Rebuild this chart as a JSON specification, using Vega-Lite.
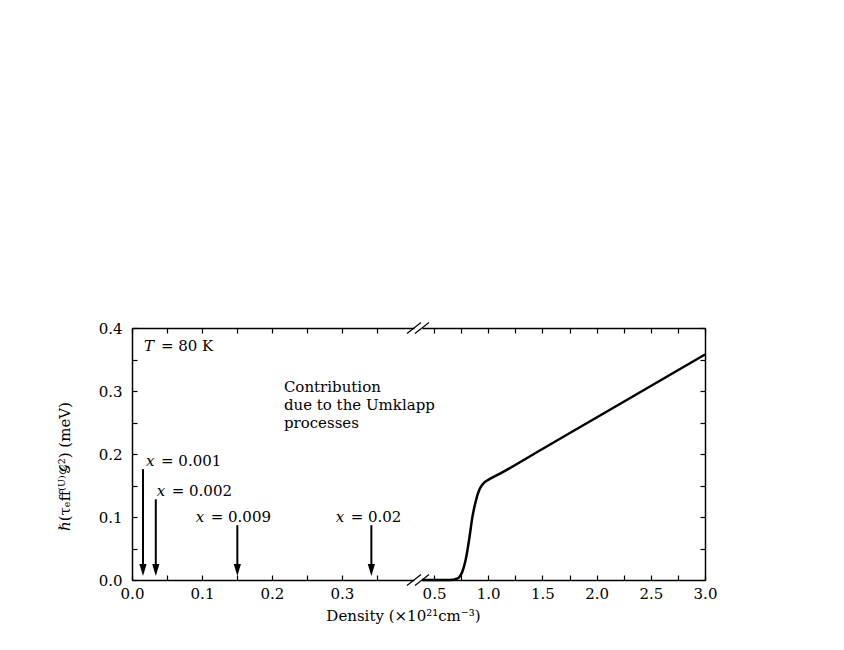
{
  "$schema": "https://vega.github.io/schema/vega-lite/v6.json",
  "background": "white",
  "padding": {"left": 57, "top": 321, "right": 5, "bottom": 5},
  "spacing": 8,
  "bounds": "flush",
  "config": {
    "view": {"stroke": null},
    "axis": {
      "domainColor": "black", "domainWidth": 1.5, "tickColor": "black", "tickWidth": 1.2, "tickSize": -5,
      "labelFont": "DejaVu Serif", "labelFontSize": 15, "labelColor": "black", "labelPadding": 11, "labelFlush": false,
      "titleFont": "DejaVu Serif", "titleFontSize": 15, "titleFontWeight": "normal", "titleColor": "black",
      "grid": false
    },
    "text": {"font": "DejaVu Serif", "fontSize": 15, "color": "black"}
  },
  "datasets": {
    "arrows": [
      {"density": 0.0157, "top": 0.176},
      {"density": 0.034, "top": 0.128},
      {"density": 0.1505, "top": 0.087},
      {"density": 0.342, "top": 0.087}
    ],
    "labels": [
      {"lx": 0.020, "ly": 0.181, "text": "= 0.001"},
      {"lx": 0.0353, "ly": 0.133, "text": "= 0.002"},
      {"lx": 0.091, "ly": 0.0925, "text": "= 0.009"},
      {"lx": 0.291, "ly": 0.0925, "text": "= 0.02"}
    ],
    "notes": [
      {"nx": 0.017, "ny": 0.364, "lead": "T", "text": "= 80 K"}
    ],
    "contrib": [
      {"cx": 0.217, "cy": 0.298, "text": ["Contribution", "due to the Umklapp", "processes"]}
    ],
    "breaksLeft": [
      {"x1": 0.3929, "x2": 0.4129, "y1": -0.0087, "y2": 0.0087},
      {"x1": 0.3929, "x2": 0.4129, "y1": 0.3913, "y2": 0.4087}
    ],
    "breaksRight": [
      {"x1": 0.3244, "x2": 0.4536, "y1": -0.0087, "y2": 0.0087},
      {"x1": 0.3244, "x2": 0.4536, "y1": 0.3913, "y2": 0.4087}
    ],
    "curve": [
      {"density": 0.389, "value": 0.0},
      {"density": 0.5, "value": 0.0},
      {"density": 0.6, "value": 0.0},
      {"density": 0.68, "value": 0.0005},
      {"density": 0.71, "value": 0.002},
      {"density": 0.731, "value": 0.004},
      {"density": 0.761, "value": 0.013},
      {"density": 0.792, "value": 0.032},
      {"density": 0.823, "value": 0.063},
      {"density": 0.853, "value": 0.099},
      {"density": 0.885, "value": 0.125},
      {"density": 0.915, "value": 0.142},
      {"density": 0.94, "value": 0.150},
      {"density": 0.965, "value": 0.155},
      {"density": 1.0, "value": 0.159},
      {"density": 1.1, "value": 0.168},
      {"density": 1.5, "value": 0.208},
      {"density": 2.0, "value": 0.258},
      {"density": 2.5, "value": 0.308},
      {"density": 3.0, "value": 0.358}
    ]
  },
  "hconcat": [
    {
      "width": 282,
      "height": 252,
      "resolve": {"axis": {"x": "independent", "y": "independent"}},
      "layer": [
        {
          "data": {"name": "arrows"},
          "mark": {"type": "rule", "strokeWidth": 2, "color": "black"},
          "encoding": {
            "x": {
              "field": "density", "type": "quantitative",
              "scale": {"domain": [0, 0.4029], "nice": false, "zero": false},
              "axis": {
                "orient": "bottom",
                "values": [0, 0.05, 0.1, 0.15, 0.2, 0.25, 0.3, 0.35],
                "labelExpr": "round(datum.value*20) % 2 == 0 ? format(datum.value, '.1f') : ''",
                "title": "Density (×10²¹cm⁻³)",
                "titleX": 271, "titleY": 40, "titleAlign": "center", "titleBaseline": "alphabetic", "titleAnchor": null
              }
            },
            "y": {
              "field": "top", "type": "quantitative",
              "scale": {"domain": [0, 0.4], "nice": false},
              "axis": {
                "orient": "left",
                "labelPadding": 15,
                "values": [0, 0.05, 0.1, 0.15, 0.2, 0.25, 0.3, 0.35, 0.4],
                "labelExpr": "round(datum.value*20) % 2 == 0 ? format(datum.value, '.1f') : ''",
                "title": "ℏ(τₑff⁽ᵁ⁾𝒢²) (meV)",
                "titleX": -68, "titleY": 138, "titleAlign": "center", "titleBaseline": "middle", "titleAnchor": null
              }
            },
            "y2": {"datum": 0.02}
          }
        },
        {
          "data": {"name": "arrows"},
          "mark": {"type": "point", "shape": "M0,1L-0.6,-1L0.6,-1Z", "filled": true, "size": 144, "color": "black", "opacity": 1, "yOffset": -10},
          "encoding": {
            "x": {
              "field": "density", "type": "quantitative",
              "axis": {"orient": "top", "values": [0, 0.05, 0.1, 0.15, 0.2, 0.25, 0.3, 0.35], "labels": false, "title": null}
            },
            "y": {"datum": 0, "type": "quantitative", "axis": null}
          }
        },
        {
          "data": {"name": "labels"},
          "mark": {"type": "text", "align": "left", "baseline": "alphabetic", "fontStyle": "italic"},
          "encoding": {
            "x": {"field": "lx", "type": "quantitative", "axis": null},
            "y": {"field": "ly", "type": "quantitative", "axis": null},
            "text": {"value": "x"}
          }
        },
        {
          "data": {"name": "labels"},
          "mark": {"type": "text", "align": "left", "baseline": "alphabetic", "dx": 15},
          "encoding": {
            "x": {"field": "lx", "type": "quantitative", "axis": null},
            "y": {"field": "ly", "type": "quantitative", "axis": null},
            "text": {"field": "text"}
          }
        },
        {
          "data": {"name": "notes"},
          "mark": {"type": "text", "align": "left", "baseline": "alphabetic", "fontStyle": "italic"},
          "encoding": {
            "x": {"field": "nx", "type": "quantitative", "axis": null},
            "y": {"field": "ny", "type": "quantitative", "axis": null},
            "text": {"field": "lead"}
          }
        },
        {
          "data": {"name": "notes"},
          "mark": {"type": "text", "align": "left", "baseline": "alphabetic", "dx": 17},
          "encoding": {
            "x": {"field": "nx", "type": "quantitative", "axis": null},
            "y": {"field": "ny", "type": "quantitative", "axis": null},
            "text": {"field": "text"}
          }
        },
        {
          "data": {"name": "contrib"},
          "mark": {"type": "text", "align": "left", "baseline": "alphabetic", "lineHeight": 18},
          "encoding": {
            "x": {"field": "cx", "type": "quantitative", "axis": null},
            "y": {"field": "cy", "type": "quantitative", "axis": null},
            "text": {"field": "text"}
          }
        },
        {
          "data": {"name": "breaksLeft"},
          "mark": {"type": "rule", "strokeWidth": 1.2, "color": "black"},
          "encoding": {
            "x": {"field": "x1", "type": "quantitative", "axis": null},
            "x2": {"field": "x2"},
            "y": {"field": "y1", "type": "quantitative", "axis": null},
            "y2": {"field": "y2"}
          }
        }
      ]
    },
    {
      "width": 283,
      "height": 252,
      "resolve": {"axis": {"x": "independent", "y": "independent"}},
      "layer": [
        {
          "data": {"name": "curve"},
          "mark": {"type": "line", "color": "black", "strokeWidth": 2.5, "interpolate": "monotone"},
          "encoding": {
            "x": {
              "field": "density", "type": "quantitative",
              "scale": {"domain": [0.389, 3.0], "nice": false, "zero": false},
              "axis": {
                "orient": "bottom",
                "values": [0.5, 0.75, 1.0, 1.25, 1.5, 1.75, 2.0, 2.25, 2.5, 2.75, 3.0],
                "labelExpr": "round(datum.value*4) % 2 == 0 ? format(datum.value, '.1f') : ''",
                "title": null
              }
            },
            "y": {
              "field": "value", "type": "quantitative",
              "scale": {"domain": [0, 0.4], "nice": false},
              "axis": {"orient": "right", "values": [0, 0.05, 0.1, 0.15, 0.2, 0.25, 0.3, 0.35, 0.4], "labels": false, "title": null}
            }
          }
        },
        {
          "data": {"name": "breaksRight"},
          "mark": {"type": "rule", "strokeWidth": 1.2, "color": "black"},
          "encoding": {
            "x": {
              "field": "x1", "type": "quantitative",
              "axis": {"orient": "top", "values": [0.5, 0.75, 1.0, 1.25, 1.5, 1.75, 2.0, 2.25, 2.5, 2.75, 3.0], "labels": false, "title": null}
            },
            "x2": {"field": "x2"},
            "y": {"field": "y1", "type": "quantitative", "axis": null},
            "y2": {"field": "y2"}
          }
        }
      ]
    }
  ]
}
